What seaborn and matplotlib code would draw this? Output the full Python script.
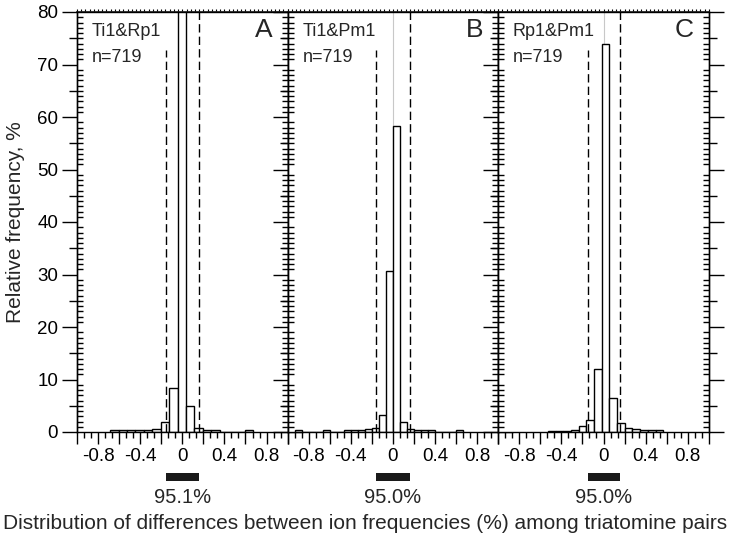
import numpy as np
import pandas as pd
import matplotlib
matplotlib.use("Agg")
import matplotlib.pyplot as plt
import seaborn as sns
from matplotlib.ticker import MultipleLocator, FuncFormatter
from matplotlib.patches import Rectangle

# ---------------------------------------------------------------------------
# data (relative frequency, %)
# ---------------------------------------------------------------------------
pairs = ["Ti1&Rp1", "Ti1&Pm1", "Rp1&Pm1"]
panel_letters = ["A", "B", "C"]
n_values = [719, 719, 719]
coverage = ["95.1%", "95.0%", "95.0%"]

# histogram bin width and origin (edge of bin 0) for each panel
bin_width = [0.08, 1 / 15, 0.073]
bin_origin = [-0.045, 0.0, -0.017]

# bin index (relative to origin) and relative frequency of the non-empty bins
a_bins = [-8, -7, -6, -5, -4, -3, -2, -1, 0, 1, 2, 3, 4, 8]
a_freq = [0.3, 0.3, 0.3, 0.3, 0.3, 0.6, 1.9, 8.4, 81.0, 5.0, 0.8, 0.3, 0.3, 0.45]

b_bins = [-14, -10, -7, -6, -5, -4, -3, -2, -1, 0, 1, 2, 3, 4, 5, 9]
b_freq = [0.3, 0.3, 0.3, 0.3, 0.4, 0.5, 0.8, 3.2, 30.6, 58.3, 2.0, 0.5, 0.3, 0.3, 0.3, 0.4]

c_bins = [-7, -6, -5, -4, -3, -2, -1, 0, 1, 2, 3, 4, 5, 6, 7]
c_freq = [0.25, 0.25, 0.25, 0.45, 1.1, 2.3, 12.0, 74.0, 6.5, 1.8, 0.76, 0.57, 0.3, 0.3, 0.3]

# 95% interval (dashed lines / black bar)
ci_low = [-0.153, -0.16, -0.15]
ci_high = [0.163, 0.163, 0.16]

panels = [(a_bins, a_freq), (b_bins, b_freq), (c_bins, c_freq)]

# ---------------------------------------------------------------------------
sns.set_theme(style="ticks")
plt.rcParams["font.family"] = ["Liberation Sans", "DejaVu Sans"]
plt.rcParams["axes.unicode_minus"] = False

fig = plt.figure(figsize=(7.31, 5.42), dpi=100)

W, H = 731, 542
ax_left, ax_w = 77, 210.6
ax_bottom, ax_h = 432, 420


def x_fmt(v, pos):
    if abs(v) > 0.95:
        return ""
    k = v / 0.4
    if abs(k - round(k)) < 1e-6:
        return "0" if abs(v) < 1e-9 else f"{v:.1f}"
    return ""


for i, (bins, freq) in enumerate(panels):
    left = (ax_left + i * ax_w) / W
    ax = fig.add_axes([left, (H - ax_bottom) / H, ax_w / W, ax_h / H])

    bw, b0 = bin_width[i], bin_origin[i]
    bins = np.array(bins)
    df = pd.DataFrame({"diff": b0 + (bins + 0.5) * bw, "freq": freq})
    lo_edge = b0 + bins.min() * bw
    hi_edge = b0 + (bins.max() + 1) * bw

    ax.axvline(0, color="#c8c8c8", lw=0.8, zorder=0)
    sns.histplot(data=df, x="diff", weights="freq", binwidth=bw,
                 binrange=(lo_edge, hi_edge), ax=ax, stat="count",
                 facecolor="white", edgecolor="black", linewidth=1.0, alpha=1,
                 zorder=2)

    ax.axvline(ci_low[i], ymax=0.91, color="black", lw=1.0, ls=(0, (6, 3)), zorder=3)
    ax.axvline(ci_high[i], color="black", lw=1.0, ls=(0, (6, 3)), zorder=3)

    ax.set_xlim(-1, 1)
    ax.set_ylim(0, 80)
    ax.set_xlabel("")
    ax.set_ylabel("")

    for sp in ax.spines.values():
        sp.set_visible(True)
        sp.set_color("black")
        sp.set_linewidth(1.0)

    # x ticks
    ax.xaxis.set_major_locator(MultipleLocator(0.2))
    ax.xaxis.set_minor_locator(MultipleLocator(0.2 / 3))
    ax.xaxis.set_major_formatter(FuncFormatter(x_fmt))
    ax.tick_params(axis="x", which="major", direction="out", length=8.6, width=1,
                   labelsize=13.5, pad=3, colors="black")
    ax.tick_params(axis="x", which="minor", direction="out", length=4.3, width=1,
                   colors="black")

    # y ticks
    ax.set_yticks(np.arange(0, 81, 10))
    ax.yaxis.set_minor_locator(MultipleLocator(1))
    ax.tick_params(axis="y", which="major", direction="out", length=10.5, width=1,
                   left=True, right=True, labelsize=13.5, pad=3, colors="black")
    ax.tick_params(axis="y", which="minor", direction="in", length=4.0, width=1,
                   left=True, right=True, colors="black")
    if i > 0:
        ax.tick_params(axis="y", labelleft=False)

    for side in ("left", "right"):
        sec = ax.secondary_yaxis(side)
        sec.set_yticks(np.arange(5, 80, 10))
        sec.tick_params(length=5.5, width=1, direction="out", colors="black")
        sec.set_yticklabels([])
        sec.spines[side].set_linewidth(1.0)

    top = ax.secondary_xaxis("top")
    top.xaxis.set_major_locator(MultipleLocator(0.04))
    top.tick_params(length=2.2, width=0.8, direction="out", colors="black")
    top.set_xticklabels([])

    # annotations
    ax.text(0.07, 0.973, pairs[i], transform=ax.transAxes, ha="left", va="top",
            fontsize=13)
    ax.text(0.07, 0.913, f"n={n_values[i]}", transform=ax.transAxes, ha="left",
            va="top", fontsize=13)
    ax.text(0.93, 0.985, panel_letters[i], transform=ax.transAxes, ha="right",
            va="top", fontsize=19)

    ax.add_patch(Rectangle((ci_low[i], -0.1167), ci_high[i] - ci_low[i], 0.019,
                           transform=ax.get_xaxis_transform(), clip_on=False,
                           facecolor="#1a1a1a", edgecolor="none"))
    ax.text(0.0, -0.157, coverage[i], transform=ax.get_xaxis_transform(),
            ha="center", va="center", fontsize=14.5)

fig.text(0.5, 0.035, "Distribution of differences between ion frequencies (%) among triatomine pairs",
         ha="center", va="center", fontsize=15)
fig.text(0.021, 0.59, "Relative frequency, %", rotation=90, ha="center",
         va="center", fontsize=15)

fig.savefig("out.png", dpi=100)
